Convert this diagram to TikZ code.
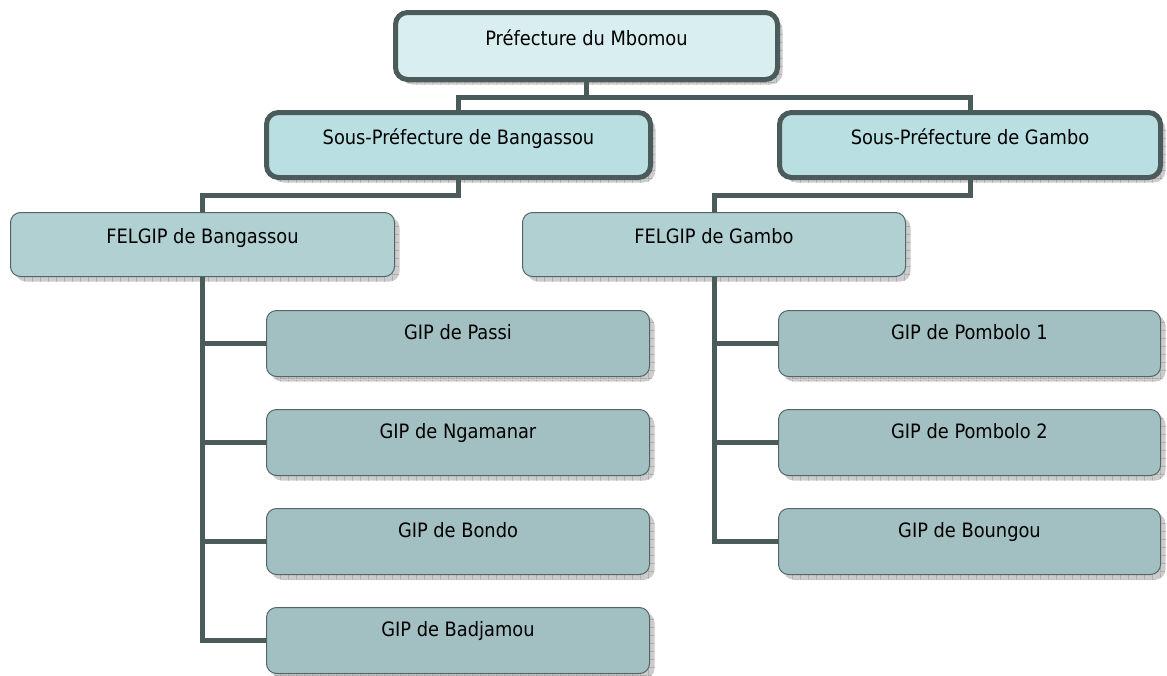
\documentclass[tikz,border=0pt]{standalone}
\usepackage{fontspec}
\setmainfont{DejaVu Sans Condensed}
\usetikzlibrary{shadows,patterns}
\definecolor{bord}{HTML}{4B5A5A}
\definecolor{thinbord}{HTML}{556565}
\definecolor{topfill}{HTML}{D9EEF0}
\definecolor{subfill}{HTML}{B9DFE2}
\definecolor{felfill}{HTML}{B0D0D2}
\definecolor{gipfill}{HTML}{A2C0C1}
\definecolor{shadowgray}{HTML}{CCCCCC}
\definecolor{gridgray}{HTML}{A0A0A0}
\pgfdeclarepatternformonly{sgrid}{\pgfpointorigin}{\pgfpoint{8pt}{8pt}}{\pgfpoint{8pt}{8pt}}{%
  \pgfsetlinewidth{0.7pt}%
  \pgfpathmoveto{\pgfpoint{0pt}{0.35pt}}\pgfpathlineto{\pgfpoint{8pt}{0.35pt}}%
  \pgfpathmoveto{\pgfpoint{0.35pt}{0pt}}\pgfpathlineto{\pgfpoint{0.35pt}{8pt}}%
  \pgfusepath{stroke}}
\tikzset{
  shad/.style={general shadow={shadow xshift=5pt,shadow yshift=-5pt,fill=shadowgray,
      postaction={pattern=sgrid,pattern color=gridgray}}},
  thickbox/.style={shad,draw=bord,line width=5pt,rounded corners=12pt,rectangle,inner sep=0pt},
  topbox/.style={thickbox,fill=topfill},
  subbox/.style={thickbox,fill=subfill},
  thinbox/.style={shad,draw=thinbord,line width=1pt,rounded corners=10pt,rectangle,inner sep=0pt},
  felbox/.style={thinbox,fill=felfill,minimum height=64pt},
  gipbox/.style={thinbox,fill=gipfill,minimum height=66pt},
  lbl/.style={anchor=base,inner sep=0pt,font=\fontsize{19.8pt}{23pt}\selectfont,text=black},
  conn/.style={draw=bord,line width=5pt,line join=miter}
}
\begin{document}
\begin{tikzpicture}[x=1pt,y=-1pt]
\useasboundingbox (0,0) rectangle (1167,675);
% boxes
\node[topbox,minimum width=382pt,minimum height=67pt] (top) at (586.5,46) {};
\node[lbl] (ttop) at ([yshift=-35pt]top.north) {Préfecture du Mbomou};
\node[subbox,minimum width=384pt,minimum height=65pt] (sl) at (458.5,145) {};
\node[lbl] (tsl) at ([yshift=-34pt]sl.north) {Sous-Préfecture de Bangassou};
\node[subbox,minimum width=381pt,minimum height=65pt] (sr) at (970,145) {};
\node[lbl] (tsr) at ([yshift=-34pt]sr.north) {Sous-Préfecture de Gambo};
\node[felbox,minimum width=384pt] (fb) at (202.5,244.5) {};
\node[lbl] (tfb) at ([yshift=-31pt]fb.north) {FELGIP de Bangassou};
\node[felbox,minimum width=383pt] (fg) at (714,244.5) {};
\node[lbl] (tfg) at ([yshift=-31pt]fg.north) {FELGIP de Gambo};
\node[gipbox,minimum width=383pt] (b1) at (458,343.5) {};
\node[lbl] (tb1) at ([yshift=-29pt]b1.north) {GIP de Passi};
\node[gipbox,minimum width=383pt] (b2) at (458,442.5) {};
\node[lbl] (tb2) at ([yshift=-29pt]b2.north) {GIP de Ngamanar};
\node[gipbox,minimum width=383pt] (b3) at (458,541.5) {};
\node[lbl] (tb3) at ([yshift=-29pt]b3.north) {GIP de Bondo};
\node[gipbox,minimum width=383pt] (b4) at (458,640.5) {};
\node[lbl] (tb4) at ([yshift=-29pt]b4.north) {GIP de Badjamou};
\node[gipbox,minimum width=382pt] (g1) at (969.5,343.5) {};
\node[lbl] (tg1) at ([yshift=-29pt]g1.north) {GIP de Pombolo 1};
\node[gipbox,minimum width=382pt] (g2) at (969.5,442.5) {};
\node[lbl] (tg2) at ([yshift=-29pt]g2.north) {GIP de Pombolo 2};
\node[gipbox,minimum width=382pt] (g3) at (969.5,541.5) {};
\node[lbl] (tg3) at ([yshift=-29pt]g3.north) {GIP de Boungou};
% connectors
\coordinate (j0) at (586.5,97);
\coordinate (j1) at (458.5,195);
\coordinate (j2) at (970,195);
\draw[conn] (top.south) -- (j0);
\draw[conn] (sl.north) -- (sl.north |- j0) -| (sr.north);
\draw[conn] (sl.south) -- (j1) -| (fb.north);
\draw[conn] (sr.south) -- (j2) -| (fg.north);
\draw[conn] (fb.south) |- (b4.west);
\draw[conn] (fb.south |- b1.west) -- (b1.west);
\draw[conn] (fb.south |- b2.west) -- (b2.west);
\draw[conn] (fb.south |- b3.west) -- (b3.west);
\draw[conn] (fg.south) |- (g3.west);
\draw[conn] (fg.south |- g1.west) -- (g1.west);
\draw[conn] (fg.south |- g2.west) -- (g2.west);
\end{tikzpicture}
\end{document}
